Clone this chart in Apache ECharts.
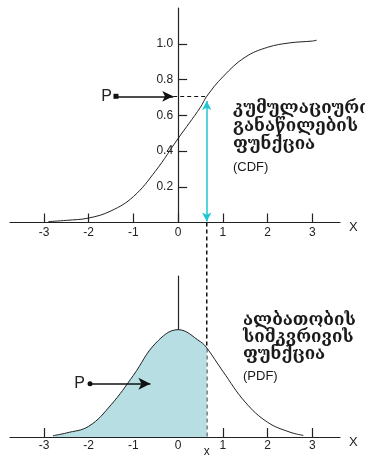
<!DOCTYPE html>
<html>
<head>
<meta charset="utf-8">
<script src="https://cdn.jsdelivr.net/npm/echarts@6/dist/echarts.min.js"></script>
<style>
  html, body { margin: 0; padding: 0; background: #fff; }
  #chart { width: 365px; height: 457px; }
</style>
</head>
<body>
<div id="chart"></div>
<script>
// values
const xTicks = [-3, -2, -1, 0, 1, 2, 3];
const yTicks = [0.2, 0.4, 0.6, 0.8, 1.0];

const cdfX = [-2.9, -2.5, -2, -1.5, -1, -0.5, 0, 0.5, 0.64, 1, 1.5, 2, 2.5, 3, 3.1];
const cdfY = [0.005, 0.012, 0.025, 0.065, 0.145, 0.29, 0.47, 0.645, 0.706, 0.815, 0.925, 0.98, 1.005, 1.015, 1.02];

const pdfX = [-2.8, -2.5, -2, -1.5, -1, -0.5, 0, 0.5, 0.64, 1, 1.5, 2, 2.5, 2.8];
const pdfY = [0.005, 0.015, 0.04, 0.12, 0.23, 0.35, 0.4, 0.355, 0.332, 0.245, 0.13, 0.055, 0.018, 0.006];

const xMark = 0.64;      // chosen x
const pLevel = 0.706;    // P on the CDF
const pStartX = -1.39;
const pArrowEnd = -0.11;
const pdfArrowY = 0.198;
const pdfArrowX = [-1.97, -0.62];

const cdfText = ['კუმულაციური', 'განაწილების', 'ფუნქცია'];
const pdfText = ['ალბათობის', 'სიმკვრივის', 'ფუნქცია'];

const X_MIN = -3.76, X_MAX = 3.62;
const GRID_W = 330;

const FONT = 'Liberation Sans, Arial, sans-serif';
const GEO = 'DejaVu Serif, DejaVu Sans, serif';

const zip = (a, b) => a.map((v, i) => [v, b[i]]);
const fillData = zip(pdfX, pdfY).filter(p => p[0] <= xMark);
// y axes sit at x = 0
const yOffset = -(0 - X_MIN) / (X_MAX - X_MIN) * GRID_W;

let myChart = echarts.init(document.getElementById('chart'));

function xAxisOpt(grid, labelMargin) {
  return {
    type: 'value', gridIndex: grid, min: X_MIN, max: X_MAX,
    name: 'X', nameGap: 9,
    nameTextStyle: { fontFamily: FONT, fontSize: 13, color: '#222', verticalAlign: 'top', lineHeight: 10 },
    axisLine: { lineStyle: { color: '#222', width: 1.2 } },
    axisTick: { inside: true, length: 9, customValues: xTicks, lineStyle: { color: '#222', width: 1.2 } },
    axisLabel: { customValues: xTicks, margin: labelMargin, fontFamily: FONT, fontSize: 12, color: '#222' },
    splitLine: { show: false }
  };
}

const option = {
  animation: false,
  grid: [
    { left: 10, width: GRID_W, top: 8, height: 214.5, outerBoundsMode: 'none', containLabel: false },
    { left: 10, width: GRID_W, top: 276, height: 161, outerBoundsMode: 'none', containLabel: false }
  ],
  xAxis: [xAxisOpt(0, 4), xAxisOpt(1, 3)],
  yAxis: [
    {
      type: 'value', gridIndex: 0, min: 0, max: 1.2, position: 'left', offset: yOffset,
      axisLine: { onZero: false, lineStyle: { color: '#222', width: 1.2 } },
      axisTick: { inside: true, length: 9, customValues: yTicks, lineStyle: { color: '#222', width: 1.2 } },
      axisLabel: { customValues: yTicks, margin: 5, fontFamily: FONT, fontSize: 12, color: '#222',
        formatter: v => v.toFixed(1) },
      splitLine: { show: false }
    },
    {
      type: 'value', gridIndex: 1, min: 0, max: 0.6, position: 'left', offset: yOffset,
      axisLine: { onZero: false, lineStyle: { color: '#222', width: 1.2 } },
      axisTick: { show: false }, axisLabel: { show: false },
      splitLine: { show: false }
    }
  ],
  series: [
    {
      // CDF
      type: 'line', xAxisIndex: 0, yAxisIndex: 0, smooth: 0.4, showSymbol: false,
      data: zip(cdfX, cdfY),
      lineStyle: { color: '#222', width: 1 },
      markLine: {
        silent: true, animation: false,
        data: [
          [
            { coord: [pStartX, pLevel], symbol: 'rect', symbolSize: 5,
              label: { show: true, position: 'start', formatter: 'P', distance: 4,
                fontFamily: FONT, fontSize: 16, color: '#222' },
              lineStyle: { color: '#111', width: 1.5, type: 'solid' } },
            { coord: [pArrowEnd, pLevel], symbol: 'arrow', symbolSize: [8, 11] }
          ],
          [
            { coord: [pArrowEnd, pLevel], symbol: 'none', label: { show: false },
              lineStyle: { color: '#111', width: 1, type: [4, 3] } },
            { coord: [xMark, pLevel], symbol: 'none' }
          ],
          [
            { coord: [xMark, 0.005], symbol: 'arrow', symbolSize: [7, 9], label: { show: false },
              lineStyle: { color: '#1ec6d0', width: 1.5, type: 'solid' } },
            { coord: [xMark, 0.68], symbol: 'arrow', symbolSize: [7, 9] }
          ]
        ]
      }
    },
    {
      // shaded part of PDF
      type: 'line', xAxisIndex: 1, yAxisIndex: 1, smooth: 0.4, showSymbol: false,
      data: fillData,
      lineStyle: { width: 0 },
      areaStyle: { color: '#b7dee3', opacity: 1 }
    },
    {
      // PDF
      type: 'line', xAxisIndex: 1, yAxisIndex: 1, smooth: 0.4, showSymbol: false,
      data: zip(pdfX, pdfY),
      lineStyle: { color: '#222', width: 1 },
      markLine: {
        silent: true, animation: false,
        data: [
          [
            { coord: [pdfArrowX[0], pdfArrowY], symbol: 'circle', symbolSize: 5,
              label: { show: true, position: 'start', formatter: 'P', distance: 5,
                fontFamily: FONT, fontSize: 16, color: '#222' },
              lineStyle: { color: '#111', width: 1.5, type: 'solid' } },
            { coord: [pdfArrowX[1], pdfArrowY], symbol: 'arrow', symbolSize: [9, 12] }
          ]
        ]
      }
    }
  ]
};

myChart.setOption(option);

// dashed connector, "x" label and the captions
const top0 = myChart.convertToPixel({ gridIndex: 0 }, [xMark, 0]);
const bot0 = myChart.convertToPixel({ gridIndex: 1 }, [xMark, 0]);

function caption(lines, abbr, x, ys) {
  const els = lines.map((t, i) => ({
    type: 'text', x: x, y: ys[i],
    style: { text: t, font: 'bold 17px ' + GEO, fill: '#1a1a1a', textVerticalAlign: 'middle' }
  }));
  els.push({
    type: 'text', x: x, y: ys[3],
    style: { text: abbr, font: '13px ' + FONT, fill: '#1a1a1a', textVerticalAlign: 'middle' }
  });
  return els;
}

myChart.setOption({
  graphic: [
    {
      type: 'line',
      shape: { x1: top0[0], y1: top0[1], x2: bot0[0], y2: bot0[1] },
      style: { stroke: '#111', lineWidth: 1.5, lineDash: [4, 3] }
    },
    {
      type: 'text', x: bot0[0], y: bot0[1] + 15,
      style: { text: 'x', font: '12px ' + FONT, fill: '#222', textAlign: 'center', textVerticalAlign: 'middle' }
    }
  ].concat(
    caption(cdfText, '(CDF)', 233, [109, 127, 145, 167]),
    caption(pdfText, '(PDF)', 243, [321, 338, 355, 376])
  )
});

window.onresize = myChart.resize;
</script>
</body>
</html>
